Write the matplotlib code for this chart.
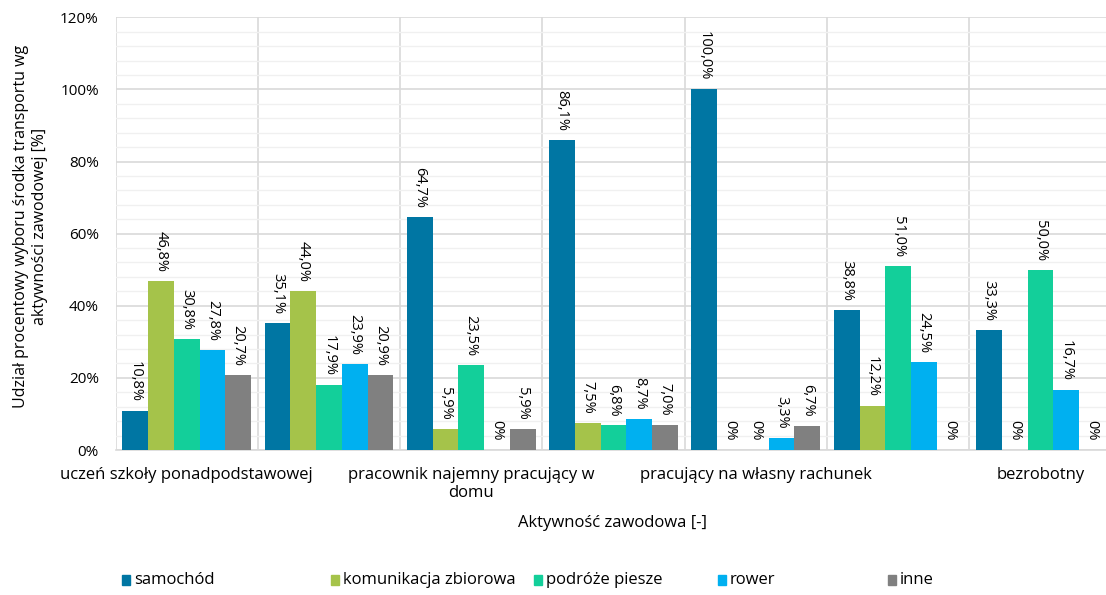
import matplotlib
matplotlib.use("Agg")
import matplotlib.pyplot as plt
import numpy as np

plt.rcParams['font.family'] = ['Open Sans', 'DejaVu Sans']

categories = ["uczeń szkoły ponadpodstawowej", "", "pracownik najemny pracujący w\ndomu",
              "", "pracujący na własny rachunek", "", "bezrobotny"]
series_names = ["samochód", "komunikacja zbiorowa", "podróże piesze", "rower", "inne"]
samochod = [10.8, 35.1, 64.7, 86.1, 100.0, 38.8, 33.3]
komunikacja = [46.8, 44.0, 5.9, 7.5, 0.0, 12.2, 0.0]
piesze = [30.8, 17.9, 23.5, 6.8, 0.0, 51.0, 50.0]
rower = [27.8, 23.9, 0.0, 8.7, 3.3, 24.5, 16.7]
inne = [20.7, 20.9, 5.9, 7.0, 6.7, 0.0, 0.0]
series = [samochod, komunikacja, piesze, rower, inne]
colors = ["#0076A3", "#A5C34A", "#13CF9A", "#00B0F0", "#808080"]

W, H = 1106, 595
fig = plt.figure(figsize=(W / 100, H / 100), dpi=100)
left, right = 115.5, 1111.6
top, bottom = 17.3, 450.0
ax = fig.add_axes([left / W, 1 - bottom / H, (right - left) / W, (bottom - top) / H])

FS = 10.5
FL = 12
n = len(categories)
x = np.arange(n)
bw = 0.181
for i, (vals, c) in enumerate(zip(series, colors)):
    pos = x + (i - 2) * bw
    ax.bar(pos, vals, width=bw, color=c, zorder=3)
    for p, v in zip(pos, vals):
        lab = "0%" if v == 0 else f"{v:.1f}%".replace(".", ",")
        ax.text(p, v + 2.5, lab, rotation=-90, ha="center", va="bottom",
                fontsize=FS, color="#000000", zorder=4)

ax.set_xlim(-0.5, n - 0.5)
ax.set_ylim(0, 120)
ax.set_yticks(np.arange(0, 121, 20))
ax.set_yticklabels([f"{int(t)}%" for t in np.arange(0, 121, 20)], fontsize=FS + 0.5)
ax.set_yticks(np.arange(0, 121, 4), minor=True)
ax.grid(axis="y", which="major", color="#D9D9D9", linewidth=1.2, zorder=0)
ax.grid(axis="y", which="minor", color="#F0F0F0", linewidth=1.0, zorder=0)
for b in np.arange(-0.5, n, 1):
    ax.axvline(b, color="#D9D9D9", linewidth=1.2, zorder=1)

ax.set_xticks(x)
ax.set_xticklabels(categories, fontsize=FL, linespacing=1.2)
ax.tick_params(axis="both", which="both", length=0)
ax.tick_params(axis="y", pad=12)
ax.tick_params(axis="x", pad=12)
for s in ["top", "right", "left"]:
    ax.spines[s].set_visible(False)
ax.spines["bottom"].set_color("#D9D9D9")
ax.spines["bottom"].set_linewidth(1.2)

fig.text(31 / W, 1 - 226 / H,
         "Udział procentowy wyboru środka transportu wg\naktywności zawodowej [%]",
         rotation=90, ha="center", va="center", fontsize=11.5, linespacing=1.25,
         multialignment="center")
fig.text(613 / W, 1 - 523 / H, "Aktywność zawodowa [-]", ha="center", va="center", fontsize=FL)

legend_x = [122, 331, 534, 718, 888]
for name, c, lx in zip(series_names, colors, legend_x):
    fig.patches.append(plt.Rectangle((lx / W, 1 - 585 / H), 8 / W, 10 / H,
                                     transform=fig.transFigure, color=c, figure=fig))
    fig.text((lx + 12) / W, 1 - 580 / H, name, ha="left", va="center", fontsize=FL)

fig.savefig("out.png", dpi=100)
